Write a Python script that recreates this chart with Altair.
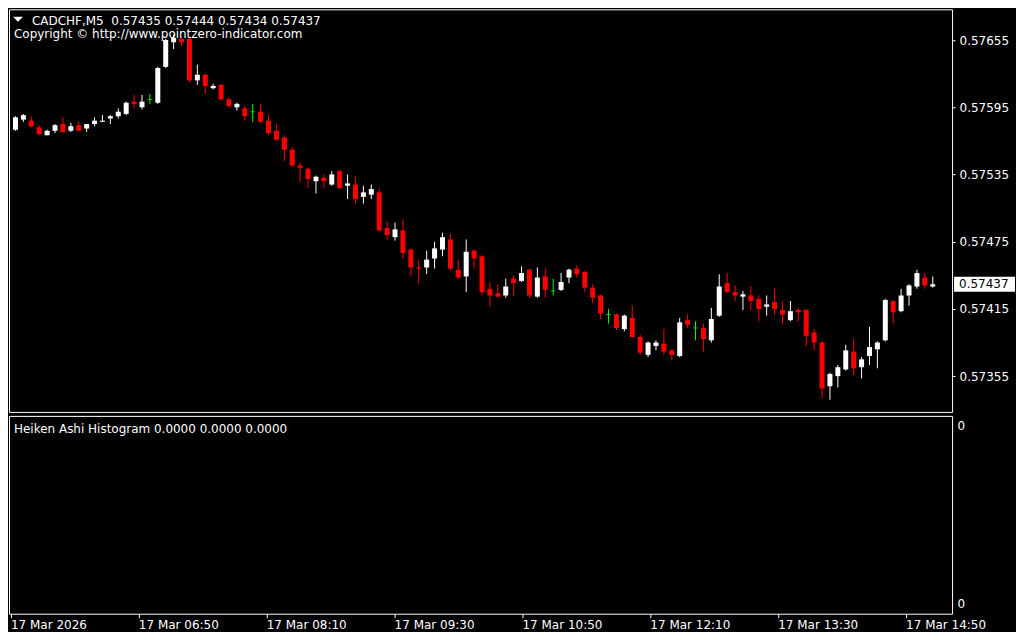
import altair as alt
import pandas as pd

symbol = "CADCHF,M5"
copyright_text = "Copyright \u00a9 http://www.pointzero-indicator.com"
indicator_text = "Heiken Ashi Histogram 0.0000 0.0000 0.0000"
hist_values_zero = 0.0

opens = [
    0.57575, 0.57584, 0.57583, 0.57577, 0.57570, 0.57574, 0.57580, 0.57574, 0.57579, 0.57576,
    0.57580, 0.57582, 0.57585, 0.57587, 0.57589, 0.57600, 0.57595, 0.57602, 0.57599, 0.57631,
    0.57653, 0.57656, 0.57656, 0.57619, 0.57624, 0.57612, 0.57615, 0.57602, 0.57595, 0.57594,
    0.57591, 0.57591, 0.57583, 0.57574, 0.57568, 0.57557, 0.57543, 0.57540, 0.57529, 0.57532,
    0.57526, 0.57538, 0.57525, 0.57526, 0.57515, 0.57517, 0.57519, 0.57487, 0.57479, 0.57485,
    0.57468, 0.57452, 0.57452, 0.57460, 0.57468, 0.57477, 0.57450, 0.57444, 0.57467, 0.57462,
    0.57433, 0.57429, 0.57427, 0.57442, 0.57440, 0.57450, 0.57426, 0.57444, 0.57431, 0.57432,
    0.57443, 0.57451, 0.57448, 0.57434, 0.57427, 0.57410, 0.57410, 0.57397, 0.57407, 0.57390,
    0.57374, 0.57382, 0.57384, 0.57378, 0.57373, 0.57405, 0.57398, 0.57398, 0.57387, 0.57409,
    0.57438, 0.57430, 0.57426, 0.57427, 0.57424, 0.57417, 0.57421, 0.57414, 0.57405, 0.57414,
    0.57414, 0.57394, 0.57385, 0.57346, 0.57355, 0.57361, 0.57377, 0.57363, 0.57373, 0.57379,
    0.57387, 0.57422, 0.57413, 0.57427, 0.57435, 0.57443, 0.57435,
]
highs = [
    0.57587, 0.57589, 0.57587, 0.57579, 0.57575, 0.57580, 0.57586, 0.57581, 0.57582, 0.57580,
    0.57586, 0.57588, 0.57588, 0.57594, 0.57600, 0.57606, 0.57606, 0.57607, 0.57631, 0.57656,
    0.57660, 0.57658, 0.57657, 0.57633, 0.57625, 0.57616, 0.57616, 0.57604, 0.57599, 0.57596,
    0.57598, 0.57598, 0.57588, 0.57580, 0.57570, 0.57559, 0.57546, 0.57541, 0.57534, 0.57535,
    0.57538, 0.57539, 0.57535, 0.57533, 0.57525, 0.57526, 0.57522, 0.57493, 0.57492, 0.57495,
    0.57469, 0.57459, 0.57467, 0.57475, 0.57483, 0.57482, 0.57459, 0.57477, 0.57468, 0.57463,
    0.57439, 0.57437, 0.57442, 0.57445, 0.57453, 0.57451, 0.57452, 0.57451, 0.57442, 0.57447,
    0.57451, 0.57454, 0.57449, 0.57437, 0.57428, 0.57415, 0.57411, 0.57410, 0.57418, 0.57392,
    0.57386, 0.57387, 0.57397, 0.57379, 0.57407, 0.57410, 0.57404, 0.57402, 0.57416, 0.57446,
    0.57447, 0.57436, 0.57431, 0.57435, 0.57427, 0.57427, 0.57433, 0.57422, 0.57422, 0.57416,
    0.57415, 0.57397, 0.57386, 0.57358, 0.57365, 0.57383, 0.57388, 0.57372, 0.57399, 0.57386,
    0.57424, 0.57423, 0.57433, 0.57437, 0.57450, 0.57447, 0.57444,
]
lows = [
    0.57574, 0.57582, 0.57577, 0.57570, 0.57570, 0.57572, 0.57572, 0.57573, 0.57574, 0.57573,
    0.57578, 0.57582, 0.57580, 0.57585, 0.57588, 0.57594, 0.57593, 0.57598, 0.57598, 0.57630,
    0.57647, 0.57650, 0.57617, 0.57615, 0.57607, 0.57611, 0.57601, 0.57595, 0.57592, 0.57583,
    0.57582, 0.57581, 0.57570, 0.57565, 0.57547, 0.57542, 0.57528, 0.57523, 0.57518, 0.57523,
    0.57525, 0.57522, 0.57513, 0.57509, 0.57509, 0.57513, 0.57484, 0.57477, 0.57476, 0.57460,
    0.57444, 0.57437, 0.57446, 0.57451, 0.57462, 0.57449, 0.57442, 0.57430, 0.57451, 0.57427,
    0.57417, 0.57425, 0.57425, 0.57427, 0.57439, 0.57425, 0.57425, 0.57425, 0.57427, 0.57431,
    0.57438, 0.57443, 0.57430, 0.57420, 0.57406, 0.57402, 0.57396, 0.57395, 0.57389, 0.57374,
    0.57372, 0.57378, 0.57374, 0.57369, 0.57372, 0.57398, 0.57387, 0.57377, 0.57385, 0.57408,
    0.57429, 0.57422, 0.57414, 0.57414, 0.57404, 0.57409, 0.57410, 0.57401, 0.57404, 0.57404,
    0.57382, 0.57378, 0.57335, 0.57334, 0.57345, 0.57360, 0.57356, 0.57353, 0.57365, 0.57362,
    0.57386, 0.57402, 0.57412, 0.57418, 0.57433, 0.57433, 0.57434,
]
closes = [
    0.57586, 0.57588, 0.57578, 0.57571, 0.57574, 0.57579, 0.57573, 0.57578, 0.57574, 0.57580,
    0.57583, 0.57583, 0.57587, 0.57591, 0.57599, 0.57598, 0.57600, 0.57602, 0.57630, 0.57655,
    0.57657, 0.57653, 0.57619, 0.57624, 0.57614, 0.57614, 0.57602, 0.57596, 0.57598, 0.57587,
    0.57591, 0.57582, 0.57572, 0.57566, 0.57557, 0.57543, 0.57541, 0.57531, 0.57533, 0.57529,
    0.57535, 0.57523, 0.57527, 0.57513, 0.57519, 0.57522, 0.57485, 0.57481, 0.57486, 0.57465,
    0.57452, 0.57451, 0.57459, 0.57469, 0.57479, 0.57451, 0.57443, 0.57466, 0.57460, 0.57430,
    0.57427, 0.57426, 0.57435, 0.57438, 0.57447, 0.57427, 0.57443, 0.57432, 0.57431, 0.57439,
    0.57450, 0.57446, 0.57434, 0.57425, 0.57411, 0.57410, 0.57398, 0.57409, 0.57390, 0.57376,
    0.57385, 0.57385, 0.57377, 0.57374, 0.57403, 0.57401, 0.57398, 0.57388, 0.57406, 0.57435,
    0.57430, 0.57427, 0.57428, 0.57422, 0.57415, 0.57419, 0.57415, 0.57410, 0.57413, 0.57412,
    0.57391, 0.57385, 0.57344, 0.57357, 0.57363, 0.57378, 0.57362, 0.57370, 0.57381, 0.57385,
    0.57423, 0.57412, 0.57427, 0.57436, 0.57447, 0.57436, 0.57437,
]

price_ticks = [0.57355, 0.57415, 0.57475, 0.57535, 0.57595, 0.57655]
time_tick_bars = [0, 16, 32, 48, 64, 80, 96, 112]
time_tick_labels = [
    "17 Mar 2026", "17 Mar 06:50", "17 Mar 08:10", "17 Mar 09:30",
    "17 Mar 10:50", "17 Mar 12:10", "17 Mar 13:30", "17 Mar 14:50",
]

# ---- layout ----
W = 944
H1 = 403
H2 = 198
BAR_PX = 8
FONT = "DejaVu Sans"
FS = 12
FS_HEAD = 12

df = pd.DataFrame({
    "k": list(range(len(opens))),
    "o": opens, "h": highs, "l": lows, "c": closes,
})

x_scale = alt.Scale(domain=[-1.5 / BAR_PX, (W - 1.5) / BAR_PX], nice=False, zero=False)
y_scale = alt.Scale(domain=[0.573231, 0.576824], nice=False, zero=False)

y_axis = alt.Axis(
    orient="right", values=price_ticks, format=".5f", title=None,
    grid=False, domain=False, ticks=True, tickColor="white", tickSize=3,
    labelColor="white", labelFont=FONT, labelFontSize=FS, labelPadding=4,
    labelOverlap=False, labelFlush=False,
)

color_expr = "datum.c > datum.o ? '#ffffff' : (datum.c < datum.o ? '#ff0000' : '#00ff00')"
base = alt.Chart(df).transform_calculate(col=color_expr)
X = alt.X("k:Q", scale=x_scale, axis=None)
COL = alt.Color("col:N", scale=None)

wicks = base.mark_rule(strokeWidth=1).encode(
    x=X, y=alt.Y("h:Q", scale=y_scale, axis=y_axis), y2="l:Q", color=COL
)
bodies = base.mark_bar(width=5).encode(
    x=X, y=alt.Y("o:Q", scale=y_scale, axis=y_axis), y2="c:Q", color=COL
)
dojis = base.transform_filter("datum.o == datum.c").mark_tick(
    orient="horizontal", size=5, thickness=1
).encode(x=X, y=alt.Y("o:Q", scale=y_scale, axis=y_axis), color=COL)

last_df = pd.DataFrame({"p": [closes[-1]]})
price_box = alt.Chart(last_df).transform_calculate(
    lo="datum.p - 0.000067", hi="datum.p + 0.000067"
).mark_rect(color="white").encode(
    x=alt.value(W + 2), x2=alt.value(W + 63),
    y=alt.Y("lo:Q", scale=y_scale, axis=y_axis), y2="hi:Q",
)
price_txt = alt.Chart(last_df).mark_text(
    align="left", baseline="middle", color="black", font=FONT, fontSize=FS
).encode(
    x=alt.value(W + 7),
    y=alt.Y("p:Q", scale=y_scale, axis=y_axis),
    text=alt.Text("p:Q", format=".5f"),
)

header = f"{symbol} \u00a0{opens[-1]:.5f} {highs[-1]:.5f} {lows[-1]:.5f} {closes[-1]:.5f}"
head_txt = alt.Chart(pd.DataFrame({"t": [header]})).mark_text(
    align="left", baseline="alphabetic", color="white", font=FONT, fontSize=FS_HEAD
).encode(text="t:N", x=alt.value(23), y=alt.value(15.5))
copy_txt = alt.Chart(pd.DataFrame({"t": [copyright_text]})).mark_text(
    align="left", baseline="alphabetic", color="white", font=FONT, fontSize=FS_HEAD
).encode(text="t:N", x=alt.value(5), y=alt.value(29))
tri = alt.Chart(pd.DataFrame({"t": [symbol]})).mark_point(
    shape="M-1,-0.5L1,-0.5L0,0.5Z", filled=True, color="white", size=100, opacity=1, strokeWidth=0
).encode(x=alt.value(9), y=alt.value(10))

main = alt.layer(wicks, bodies, dojis, price_box, price_txt, head_txt, copy_txt, tri).properties(
    width=W, height=H1
)

# ---- indicator sub-window ----
lab_arr = "[" + ",".join("'" + s + "'" for s in time_tick_labels) + "]"
pos_arr = "[" + ",".join(str(v) for v in time_tick_bars) + "]"
x_axis = alt.Axis(
    orient="bottom", values=time_tick_bars,
    labelExpr=f"{lab_arr}[indexof({pos_arr}, datum.value)]",
    title=None, grid=False, domain=False, tickColor="white", tickSize=4,
    labelColor="white", labelFont=FONT, labelFontSize=FS, labelAlign="left",
    labelBaseline="top", labelPadding=2, labelFlush=False, labelOverlap=False,
)
sub_y_axis = alt.Axis(
    orient="right", values=[0.05, 0.95], labelExpr="'0'", title=None,
    grid=False, domain=False, ticks=False, labelColor="white",
    labelFont=FONT, labelFontSize=FS, labelPadding=5,
)
hist = alt.Chart(df).transform_calculate(hist=str(hist_values_zero)).mark_point(
    opacity=0, size=1
).encode(
    x=alt.X("k:Q", scale=x_scale, axis=x_axis),
    y=alt.Y("hist:Q", scale=alt.Scale(domain=[0, 1], nice=False), axis=sub_y_axis),
)
ind_txt = alt.Chart(pd.DataFrame({"t": [indicator_text]})).mark_text(
    align="left", baseline="alphabetic", color="white", font=FONT, fontSize=FS
).encode(text="t:N", x=alt.value(5), y=alt.value(17))

sub = alt.layer(hist, ind_txt).properties(width=W, height=H2)

chart = alt.vconcat(main, sub, spacing=2).properties(
    background="black", padding=0
).configure_view(stroke="white", strokeWidth=1)

chart.save("out.html", embed_options={"renderer": "svg", "actions": False})
